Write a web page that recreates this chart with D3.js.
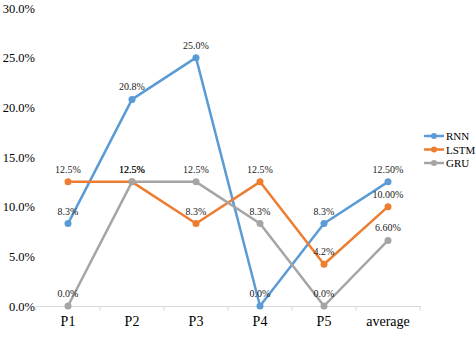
<!DOCTYPE html>
<html>
<head>
<meta charset="utf-8">
<script src="https://cdn.jsdelivr.net/npm/d3@7"></script>
<style>
  body { margin: 0; background: #fff; }
  text { font-family: "Liberation Serif", "Times New Roman", "Liberation Sans", sans-serif; }
  .x-axis path, .x-axis line { stroke: #d9d9d9; }
  .x-axis text { font-size: 14px; fill: #000; }
  .y-axis path, .y-axis line { display: none; }
  .y-axis text { font-size: 12.5px; fill: #000; }
  .lbl { font-size: 10px; fill: #222; }
  .legend text { font-size: 11px; fill: #000; }
</style>
</head>
<body>
<svg width="476" height="340"></svg>
<script>
const w = 476, h = 340;

const categories = ["P1", "P2", "P3", "P4", "P5", "average"];
const seriesNames = ["RNN", "LSTM", "GRU"];
const rnn  = [0.083, 0.208, 0.250, 0.000, 0.083, 0.125];
const lstm = [0.125, 0.125, 0.083, 0.125, 0.042, 0.100];
const gru  = [0.000, 0.125, 0.125, 0.083, 0.000, 0.066];
const yTicks = [0, 0.05, 0.10, 0.15, 0.20, 0.25, 0.30];

const colors = ["#5b9bd5", "#ed7d31", "#a5a5a5"];
const series = [rnn, lstm, gru].map((vals, k) => ({name: seriesNames[k], values: vals, color: colors[k]}));

const scaleX = d3.scaleBand().domain(categories).range([36, 420]);
const scaleY = d3.scaleLinear().domain([0, 0.30]).range([306, 8]);

const fmt1 = d3.format(".1%"), fmt2 = d3.format(".2%");
const svg = d3.select("svg");

// axes (d3 puts a sans-serif font on the axis group, drop it)
svg.append("g").attr("class", "x-axis")
    .attr("transform", `translate(0,${scaleY(0)})`)
    .call(d3.axisBottom(scaleX).tickSize(0).tickPadding(10))
    .attr("font-family", null);

// band boundary ticks
svg.select(".x-axis").selectAll("line.sep")
    .data(d3.range(categories.length + 1))
    .join("line").attr("class", "sep")
    .attr("x1", i => 36 + i * scaleX.step()).attr("x2", i => 36 + i * scaleX.step())
    .attr("y1", 0).attr("y2", 5);

svg.append("g").attr("class", "y-axis")
    .attr("transform", "translate(35,0)")
    .call(d3.axisLeft(scaleY).tickValues(yTicks).tickFormat(fmt1).tickSize(0).tickPadding(0))
    .attr("font-family", null);

const cx = (d, i) => scaleX(categories[i]) + scaleX.bandwidth() / 2;
const line = d3.line().x(cx).y(d => scaleY(d));

// lines and markers
const g = svg.selectAll("g.series").data(series).join("g").attr("class", "series");
g.append("path")
    .attr("d", d => line(d.values))
    .attr("fill", "none")
    .attr("stroke", d => d.color)
    .attr("stroke-width", 2.5)
    .attr("stroke-linejoin", "round");

g.each(function(s) {
    d3.select(this).selectAll("circle")
        .data(s.values).join("circle")
        .attr("cx", cx).attr("cy", d => scaleY(d))
        .attr("r", 3.5).attr("fill", s.color);
});

// data labels
g.each(function(s) {
    d3.select(this).selectAll("text.lbl")
        .data(s.values).join("text").attr("class", "lbl")
        .attr("x", cx).attr("y", d => scaleY(d) - 9)
        .attr("text-anchor", "middle")
        .text((d, i) => i === categories.length - 1 ? fmt2(d) : fmt1(d));
});

// legend
const legend = svg.append("g").attr("class", "legend")
    .attr("transform", "translate(424,136)");
legend.selectAll("g.item").data(series).join("g").attr("class", "item")
    .each(function(s, i) {
        const it = d3.select(this).attr("transform", `translate(0,${i * 13.5})`);
        it.append("line").attr("x1", 0).attr("x2", 20).attr("y1", 0).attr("y2", 0)
            .attr("stroke", s.color).attr("stroke-width", 2.5);
        it.append("circle").attr("cx", 10).attr("cy", 0).attr("r", 3).attr("fill", s.color);
        it.append("text").attr("x", 22).attr("y", 4).text(s.name);
    });
</script>
</body>
</html>
